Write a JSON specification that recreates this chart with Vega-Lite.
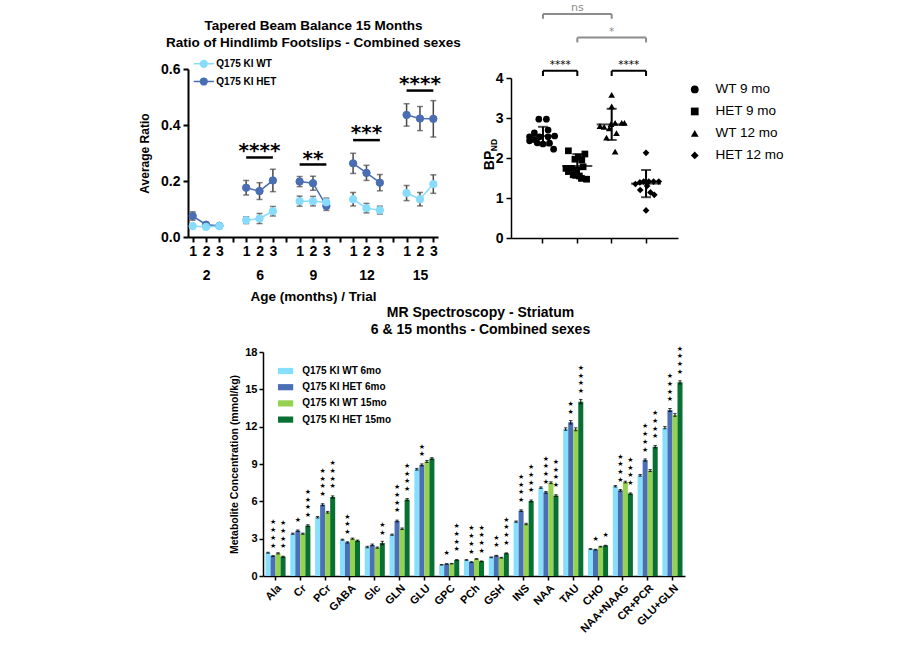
{
  "$schema": "https://vega.github.io/schema/vega-lite/v6.json",
  "width": 900,
  "height": 645,
  "autosize": {"type": "none"},
  "padding": 0,
  "config": {
    "view": {"stroke": null},
    "font": "Liberation Sans",
    "axis": {"grid": false, "labelFont": "Liberation Sans", "titleFont": "Liberation Sans", "labelFontWeight": "bold", "titleFontWeight": "bold", "domainColor": "black", "tickColor": "black", "labelColor": "black", "titleColor": "black"},
    "legend": {"labelFont": "Liberation Sans", "labelColor": "black"}
  },
  "datasets": {
    "beam": [
      {"key": "2-1", "age": "2", "geno": "Q175 KI HET", "m": 0.075, "e": 0.015},
      {"key": "2-2", "age": "2", "geno": "Q175 KI HET", "m": 0.044, "e": 0.006},
      {"key": "2-3", "age": "2", "geno": "Q175 KI HET", "m": 0.040, "e": 0.004},
      {"key": "6-1", "age": "6", "geno": "Q175 KI HET", "m": 0.176, "e": 0.026},
      {"key": "6-2", "age": "6", "geno": "Q175 KI HET", "m": 0.164, "e": 0.030},
      {"key": "6-3", "age": "6", "geno": "Q175 KI HET", "m": 0.202, "e": 0.040},
      {"key": "9-1", "age": "9", "geno": "Q175 KI HET", "m": 0.198, "e": 0.018},
      {"key": "9-2", "age": "9", "geno": "Q175 KI HET", "m": 0.192, "e": 0.025},
      {"key": "9-3", "age": "9", "geno": "Q175 KI HET", "m": 0.111, "e": 0.016},
      {"key": "12-1", "age": "12", "geno": "Q175 KI HET", "m": 0.263, "e": 0.036},
      {"key": "12-2", "age": "12", "geno": "Q175 KI HET", "m": 0.229, "e": 0.027},
      {"key": "12-3", "age": "12", "geno": "Q175 KI HET", "m": 0.194, "e": 0.029},
      {"key": "15-1", "age": "15", "geno": "Q175 KI HET", "m": 0.436, "e": 0.040},
      {"key": "15-2", "age": "15", "geno": "Q175 KI HET", "m": 0.423, "e": 0.043},
      {"key": "15-3", "age": "15", "geno": "Q175 KI HET", "m": 0.422, "e": 0.065},
      {"key": "2-1", "age": "2", "geno": "Q175 KI WT", "m": 0.039, "e": 0.004},
      {"key": "2-2", "age": "2", "geno": "Q175 KI WT", "m": 0.036, "e": 0.004},
      {"key": "2-3", "age": "2", "geno": "Q175 KI WT", "m": 0.039, "e": 0.004},
      {"key": "6-1", "age": "6", "geno": "Q175 KI WT", "m": 0.060, "e": 0.012},
      {"key": "6-2", "age": "6", "geno": "Q175 KI WT", "m": 0.066, "e": 0.018},
      {"key": "6-3", "age": "6", "geno": "Q175 KI WT", "m": 0.092, "e": 0.017},
      {"key": "9-1", "age": "9", "geno": "Q175 KI WT", "m": 0.128, "e": 0.018},
      {"key": "9-2", "age": "9", "geno": "Q175 KI WT", "m": 0.128, "e": 0.017},
      {"key": "9-3", "age": "9", "geno": "Q175 KI WT", "m": 0.124, "e": 0.015},
      {"key": "12-1", "age": "12", "geno": "Q175 KI WT", "m": 0.135, "e": 0.024},
      {"key": "12-2", "age": "12", "geno": "Q175 KI WT", "m": 0.103, "e": 0.017},
      {"key": "12-3", "age": "12", "geno": "Q175 KI WT", "m": 0.096, "e": 0.014},
      {"key": "15-1", "age": "15", "geno": "Q175 KI WT", "m": 0.157, "e": 0.027},
      {"key": "15-2", "age": "15", "geno": "Q175 KI WT", "m": 0.135, "e": 0.024},
      {"key": "15-3", "age": "15", "geno": "Q175 KI WT", "m": 0.189, "e": 0.033}
    ],
    "sig1": [
      {"from": "6-1", "to": "6-3", "mid": "6-2", "y": 0.284, "ty": 0.323, "s": "****"},
      {"from": "9-1", "to": "9-3", "mid": "9-2", "y": 0.259, "ty": 0.296, "s": "**"},
      {"from": "12-1", "to": "12-3", "mid": "12-2", "y": 0.346, "ty": 0.386, "s": "***"},
      {"from": "15-1", "to": "15-3", "mid": "15-2", "y": 0.523, "ty": 0.561, "s": "****"}
    ],
    "bp": [
      {"grp": "WT 9 mo", "jit": -0.39, "bp": 2.53},
      {"grp": "WT 9 mo", "jit": -0.26, "bp": 2.46},
      {"grp": "WT 9 mo", "jit": -0.12, "bp": 2.97},
      {"grp": "WT 9 mo", "jit": 0.10, "bp": 2.97},
      {"grp": "WT 9 mo", "jit": 0.15, "bp": 2.70},
      {"grp": "WT 9 mo", "jit": -0.10, "bp": 2.53},
      {"grp": "WT 9 mo", "jit": 0.15, "bp": 2.53},
      {"grp": "WT 9 mo", "jit": 0.34, "bp": 2.55},
      {"grp": "WT 9 mo", "jit": -0.39, "bp": 2.43},
      {"grp": "WT 9 mo", "jit": -0.17, "bp": 2.38},
      {"grp": "WT 9 mo", "jit": 0.0, "bp": 2.35},
      {"grp": "WT 9 mo", "jit": 0.19, "bp": 2.37},
      {"grp": "WT 9 mo", "jit": 0.31, "bp": 2.22},
      {"grp": "WT 9 mo", "jit": -0.25, "bp": 2.63},
      {"grp": "HET 9 mo", "jit": -0.26, "bp": 2.18},
      {"grp": "HET 9 mo", "jit": 0.22, "bp": 2.10},
      {"grp": "HET 9 mo", "jit": 0.03, "bp": 2.02},
      {"grp": "HET 9 mo", "jit": -0.07, "bp": 1.97},
      {"grp": "HET 9 mo", "jit": 0.13, "bp": 1.95},
      {"grp": "HET 9 mo", "jit": -0.33, "bp": 1.74},
      {"grp": "HET 9 mo", "jit": -0.17, "bp": 1.74},
      {"grp": "HET 9 mo", "jit": -0.02, "bp": 1.70},
      {"grp": "HET 9 mo", "jit": 0.17, "bp": 1.78},
      {"grp": "HET 9 mo", "jit": -0.26, "bp": 1.66},
      {"grp": "HET 9 mo", "jit": -0.12, "bp": 1.58},
      {"grp": "HET 9 mo", "jit": 0.06, "bp": 1.55},
      {"grp": "HET 9 mo", "jit": 0.27, "bp": 1.47},
      {"grp": "HET 9 mo", "jit": 0.12, "bp": 1.49},
      {"grp": "WT 12 mo", "jit": 0.0, "bp": 3.58},
      {"grp": "WT 12 mo", "jit": 0.0, "bp": 3.29},
      {"grp": "WT 12 mo", "jit": -0.34, "bp": 2.80},
      {"grp": "WT 12 mo", "jit": -0.22, "bp": 2.78},
      {"grp": "WT 12 mo", "jit": -0.02, "bp": 2.85},
      {"grp": "WT 12 mo", "jit": 0.10, "bp": 2.88},
      {"grp": "WT 12 mo", "jit": 0.29, "bp": 2.88},
      {"grp": "WT 12 mo", "jit": 0.37, "bp": 2.88},
      {"grp": "WT 12 mo", "jit": -0.07, "bp": 2.74},
      {"grp": "WT 12 mo", "jit": 0.14, "bp": 2.62},
      {"grp": "WT 12 mo", "jit": -0.15, "bp": 2.51},
      {"grp": "WT 12 mo", "jit": 0.10, "bp": 2.16},
      {"grp": "HET 12 mo", "jit": 0.0, "bp": 2.13},
      {"grp": "HET 12 mo", "jit": -0.31, "bp": 1.35},
      {"grp": "HET 12 mo", "jit": -0.18, "bp": 1.39},
      {"grp": "HET 12 mo", "jit": -0.07, "bp": 1.41},
      {"grp": "HET 12 mo", "jit": 0.08, "bp": 1.41},
      {"grp": "HET 12 mo", "jit": 0.22, "bp": 1.41},
      {"grp": "HET 12 mo", "jit": 0.37, "bp": 1.41},
      {"grp": "HET 12 mo", "jit": -0.17, "bp": 1.20},
      {"grp": "HET 12 mo", "jit": 0.13, "bp": 1.14},
      {"grp": "HET 12 mo", "jit": 0.24, "bp": 1.08},
      {"grp": "HET 12 mo", "jit": 0.0, "bp": 0.69},
      {"grp": "HET 12 mo", "jit": 0.03, "bp": 1.30}
    ],
    "bpsum": [
      {"grp": "WT 9 mo", "mean": 2.55, "sd": 0.23},
      {"grp": "HET 9 mo", "mean": 1.80, "sd": 0.30},
      {"grp": "WT 12 mo", "mean": 2.84, "sd": 0.39},
      {"grp": "HET 12 mo", "mean": 1.36, "sd": 0.34}
    ],
    "brh": [
      {"a": "WT 9 mo", "b": "WT 12 mo", "y": 5.6, "k": "ns"},
      {"a": "HET 9 mo", "b": "HET 12 mo", "y": 5.01, "k": "*"},
      {"a": "WT 9 mo", "b": "HET 9 mo", "y": 4.18, "k": "****"},
      {"a": "WT 12 mo", "b": "HET 12 mo", "y": 4.18, "k": "****"}
    ],
    "brv": [
      {"a": "WT 9 mo", "y": 5.6, "y2": 5.48, "k": "ns"},
      {"a": "WT 12 mo", "y": 5.6, "y2": 5.48, "k": "ns"},
      {"a": "HET 9 mo", "y": 5.01, "y2": 4.89, "k": "*"},
      {"a": "HET 12 mo", "y": 5.01, "y2": 4.89, "k": "*"},
      {"a": "WT 9 mo", "y": 4.18, "y2": 4.05, "k": "****"},
      {"a": "HET 9 mo", "y": 4.18, "y2": 4.05, "k": "****"},
      {"a": "WT 12 mo", "y": 4.18, "y2": 4.05, "k": "****"},
      {"a": "HET 12 mo", "y": 4.18, "y2": 4.05, "k": "****"}
    ],
    "brt": [
      {"a": "HET 9 mo", "dx": 0, "y": 5.67, "t": "ns", "k": "ns"},
      {"a": "WT 12 mo", "dx": 0, "y": 5.08, "t": "*", "k": "*"},
      {"a": "WT 9 mo", "dx": 0.5, "y": 4.24, "t": "****", "k": "****"},
      {"a": "WT 12 mo", "dx": 0.5, "y": 4.24, "t": "****", "k": "****"}
    ],
    "mrs": [
      {"met": "Ala", "grp": "Q175 KI WT 6mo", "v": 1.87, "e": 0.04, "n": 0},
      {"met": "Ala", "grp": "Q175 KI HET 6mo", "v": 1.60, "e": 0.04, "n": 4},
      {"met": "Ala", "grp": "Q175 KI WT 15mo", "v": 1.82, "e": 0.05, "n": 0},
      {"met": "Ala", "grp": "Q175 KI HET 15mo", "v": 1.55, "e": 0.04, "n": 4},
      {"met": "Cr", "grp": "Q175 KI WT 6mo", "v": 3.40, "e": 0.05, "n": 0},
      {"met": "Cr", "grp": "Q175 KI HET 6mo", "v": 3.64, "e": 0.06, "n": 1},
      {"met": "Cr", "grp": "Q175 KI WT 15mo", "v": 3.40, "e": 0.05, "n": 0},
      {"met": "Cr", "grp": "Q175 KI HET 15mo", "v": 4.05, "e": 0.07, "n": 4},
      {"met": "PCr", "grp": "Q175 KI WT 6mo", "v": 4.72, "e": 0.06, "n": 0},
      {"met": "PCr", "grp": "Q175 KI HET 6mo", "v": 5.73, "e": 0.08, "n": 4},
      {"met": "PCr", "grp": "Q175 KI WT 15mo", "v": 5.12, "e": 0.07, "n": 0},
      {"met": "PCr", "grp": "Q175 KI HET 15mo", "v": 6.35, "e": 0.09, "n": 4},
      {"met": "GABA", "grp": "Q175 KI WT 6mo", "v": 2.92, "e": 0.04, "n": 0},
      {"met": "GABA", "grp": "Q175 KI HET 6mo", "v": 2.70, "e": 0.05, "n": 3},
      {"met": "GABA", "grp": "Q175 KI WT 15mo", "v": 3.00, "e": 0.05, "n": 0},
      {"met": "GABA", "grp": "Q175 KI HET 15mo", "v": 2.84, "e": 0.05, "n": 0},
      {"met": "Glc", "grp": "Q175 KI WT 6mo", "v": 2.33, "e": 0.06, "n": 0},
      {"met": "Glc", "grp": "Q175 KI HET 6mo", "v": 2.50, "e": 0.07, "n": 0},
      {"met": "Glc", "grp": "Q175 KI WT 15mo", "v": 2.28, "e": 0.05, "n": 0},
      {"met": "Glc", "grp": "Q175 KI HET 15mo", "v": 2.65, "e": 0.14, "n": 2},
      {"met": "GLN", "grp": "Q175 KI WT 6mo", "v": 3.32, "e": 0.05, "n": 0},
      {"met": "GLN", "grp": "Q175 KI HET 6mo", "v": 4.42, "e": 0.07, "n": 4},
      {"met": "GLN", "grp": "Q175 KI WT 15mo", "v": 3.80, "e": 0.06, "n": 0},
      {"met": "GLN", "grp": "Q175 KI HET 15mo", "v": 6.14, "e": 0.09, "n": 4},
      {"met": "GLU", "grp": "Q175 KI WT 6mo", "v": 8.58, "e": 0.07, "n": 0},
      {"met": "GLU", "grp": "Q175 KI HET 6mo", "v": 8.93, "e": 0.08, "n": 2},
      {"met": "GLU", "grp": "Q175 KI WT 15mo", "v": 9.20, "e": 0.08, "n": 0},
      {"met": "GLU", "grp": "Q175 KI HET 15mo", "v": 9.44, "e": 0.07, "n": 0},
      {"met": "GPC", "grp": "Q175 KI WT 6mo", "v": 0.90, "e": 0.02, "n": 0},
      {"met": "GPC", "grp": "Q175 KI HET 6mo", "v": 0.97, "e": 0.02, "n": 1},
      {"met": "GPC", "grp": "Q175 KI WT 15mo", "v": 0.99, "e": 0.02, "n": 0},
      {"met": "GPC", "grp": "Q175 KI HET 15mo", "v": 1.29, "e": 0.03, "n": 4},
      {"met": "PCh", "grp": "Q175 KI WT 6mo", "v": 1.29, "e": 0.03, "n": 0},
      {"met": "PCh", "grp": "Q175 KI HET 6mo", "v": 1.12, "e": 0.03, "n": 4},
      {"met": "PCh", "grp": "Q175 KI WT 15mo", "v": 1.37, "e": 0.03, "n": 0},
      {"met": "PCh", "grp": "Q175 KI HET 15mo", "v": 1.18, "e": 0.03, "n": 4},
      {"met": "GSH", "grp": "Q175 KI WT 6mo", "v": 1.50, "e": 0.03, "n": 0},
      {"met": "GSH", "grp": "Q175 KI HET 6mo", "v": 1.63, "e": 0.03, "n": 2},
      {"met": "GSH", "grp": "Q175 KI WT 15mo", "v": 1.47, "e": 0.03, "n": 0},
      {"met": "GSH", "grp": "Q175 KI HET 15mo", "v": 1.82, "e": 0.04, "n": 4},
      {"met": "INS", "grp": "Q175 KI WT 6mo", "v": 4.37, "e": 0.05, "n": 0},
      {"met": "INS", "grp": "Q175 KI HET 6mo", "v": 5.25, "e": 0.07, "n": 4},
      {"met": "INS", "grp": "Q175 KI WT 15mo", "v": 4.18, "e": 0.06, "n": 0},
      {"met": "INS", "grp": "Q175 KI HET 15mo", "v": 6.03, "e": 0.08, "n": 4},
      {"met": "NAA", "grp": "Q175 KI WT 6mo", "v": 7.10, "e": 0.06, "n": 0},
      {"met": "NAA", "grp": "Q175 KI HET 6mo", "v": 6.72, "e": 0.07, "n": 4},
      {"met": "NAA", "grp": "Q175 KI WT 15mo", "v": 7.50, "e": 0.07, "n": 0},
      {"met": "NAA", "grp": "Q175 KI HET 15mo", "v": 6.46, "e": 0.07, "n": 4},
      {"met": "TAU", "grp": "Q175 KI WT 6mo", "v": 11.81, "e": 0.10, "n": 0},
      {"met": "TAU", "grp": "Q175 KI HET 6mo", "v": 12.35, "e": 0.14, "n": 2},
      {"met": "TAU", "grp": "Q175 KI WT 15mo", "v": 11.79, "e": 0.12, "n": 0},
      {"met": "TAU", "grp": "Q175 KI HET 15mo", "v": 14.01, "e": 0.18, "n": 4},
      {"met": "CHO", "grp": "Q175 KI WT 6mo", "v": 2.17, "e": 0.03, "n": 0},
      {"met": "CHO", "grp": "Q175 KI HET 6mo", "v": 2.12, "e": 0.03, "n": 1},
      {"met": "CHO", "grp": "Q175 KI WT 15mo", "v": 2.36, "e": 0.03, "n": 0},
      {"met": "CHO", "grp": "Q175 KI HET 15mo", "v": 2.44, "e": 0.03, "n": 1},
      {"met": "NAA+NAAG", "grp": "Q175 KI WT 6mo", "v": 7.21, "e": 0.06, "n": 0},
      {"met": "NAA+NAAG", "grp": "Q175 KI HET 6mo", "v": 6.88, "e": 0.07, "n": 4},
      {"met": "NAA+NAAG", "grp": "Q175 KI WT 15mo", "v": 7.55, "e": 0.07, "n": 0},
      {"met": "NAA+NAAG", "grp": "Q175 KI HET 15mo", "v": 6.62, "e": 0.06, "n": 4},
      {"met": "CR+PCR", "grp": "Q175 KI WT 6mo", "v": 8.09, "e": 0.07, "n": 0},
      {"met": "CR+PCR", "grp": "Q175 KI HET 6mo", "v": 9.32, "e": 0.09, "n": 4},
      {"met": "CR+PCR", "grp": "Q175 KI WT 15mo", "v": 8.47, "e": 0.08, "n": 0},
      {"met": "CR+PCR", "grp": "Q175 KI HET 15mo", "v": 10.39, "e": 0.10, "n": 4},
      {"met": "GLU+GLN", "grp": "Q175 KI WT 6mo", "v": 11.92, "e": 0.09, "n": 0},
      {"met": "GLU+GLN", "grp": "Q175 KI HET 6mo", "v": 13.34, "e": 0.12, "n": 4},
      {"met": "GLU+GLN", "grp": "Q175 KI WT 15mo", "v": 12.94, "e": 0.11, "n": 0},
      {"met": "GLU+GLN", "grp": "Q175 KI HET 15mo", "v": 15.56, "e": 0.13, "n": 4}
    ]
  },
  "layer": [
    {
      "resolve": {"axis": {"x": "independent", "y": "independent"}, "legend": {"color": "independent", "stroke": "independent"}},
      "layer": [
        {
          "data": {"name": "beam"},
          "mark": {"type": "line", "strokeWidth": 1.5},
          "encoding": {
            "x": {"field": "key", "type": "nominal", "sort": null,
              "scale": {"type": "point", "domain": ["2-1", "2-2", "2-3", "s1", "6-1", "6-2", "6-3", "s2", "9-1", "9-2", "9-3", "s3", "12-1", "12-2", "12-3", "s4", "15-1", "15-2", "15-3"], "range": [188, 438], "padding": 0.35},
              "axis": {"orient": "bottom", "offset": -408, "labelAngle": 0, "labelFontSize": 14, "labelPadding": 2, "labelLineHeight": 24, "tickSize": 5, "tickWidth": 2, "domainWidth": 2,
                "labelExpr": "indexof(datum.value, 's') == 0 ? '' : (split(datum.value, '-')[1] == '2' ? ['2', split(datum.value, '-')[0]] : split(datum.value, '-')[1])",
                "title": "Age (months) / Trial", "titleFontSize": 13.5, "titleY": 52, "titleBaseline": "top"}},
            "y": {"field": "m", "type": "quantitative",
              "scale": {"domain": [0, 0.6], "range": [237, 69], "nice": false},
              "axis": {"orient": "left", "offset": -188, "values": [0, 0.2, 0.4, 0.6], "format": ".1f", "labelFontSize": 14, "labelPadding": 3, "tickSize": 5, "tickWidth": 2, "domainWidth": 2, "title": "Average Ratio", "titleFontSize": 12, "titleX": -36.5, "titleY": 153}},
            "color": {"field": "geno", "type": "nominal", "scale": {"domain": ["Q175 KI WT", "Q175 KI HET"], "range": ["#86dcfa", "#4a6eb3"]}, "legend": null},
            "detail": {"field": "age"}
          }
        },
        {
          "data": {"name": "beam"},
          "mark": {"type": "errorbar", "ticks": {"size": 6}, "thickness": 1.5, "color": "#484848"},
          "encoding": {
            "x": {"field": "key", "type": "nominal", "axis": null},
            "y": {"field": "m", "type": "quantitative", "axis": null},
            "yError": {"field": "e"}
          }
        },
        {
          "data": {"name": "beam"},
          "mark": {"type": "point", "filled": true, "size": 55, "opacity": 1, "strokeWidth": 1},
          "encoding": {
            "x": {"field": "key", "type": "nominal", "axis": null},
            "y": {"field": "m", "type": "quantitative", "axis": null},
            "color": {"field": "geno", "type": "nominal",
              "legend": {"orient": "none", "legendX": 196.3, "legendY": 56.3, "title": null, "symbolType": "M-1.5,0H1.5M-0.5,0A0.5,0.5 0 1,0 0.5,0A0.5,0.5 0 1,0 -0.5,0", "symbolSize": 180, "symbolStrokeWidth": 1.5, "labelFontSize": 10, "labelFontWeight": "bold", "labelOffset": 5, "rowPadding": 3.7, "padding": 0}},
            "stroke": {"field": "geno", "type": "nominal", "scale": {"domain": ["Q175 KI WT", "Q175 KI HET"], "range": ["#86dcfa", "#4a6eb3"]},
              "legend": {"orient": "none", "legendX": 196.3, "legendY": 56.3, "title": null, "symbolType": "M-1.5,0H1.5M-0.5,0A0.5,0.5 0 1,0 0.5,0A0.5,0.5 0 1,0 -0.5,0", "symbolSize": 180, "symbolStrokeWidth": 1.5, "labelFontSize": 10, "labelFontWeight": "bold", "labelOffset": 5, "rowPadding": 3.7, "padding": 0}}
          }
        },
        {
          "data": {"name": "sig1"},
          "mark": {"type": "rule", "strokeWidth": 2.5, "color": "black"},
          "encoding": {
            "x": {"field": "from", "type": "nominal",
              "axis": {"orient": "top", "offset": 0, "domain": false, "ticks": false, "labels": false, "title": ["Tapered Beam Balance 15 Months", "Ratio of Hindlimb Footslips - Combined sexes"], "titleFontSize": 13.5, "titleLineHeight": 16.5, "titleBaseline": "bottom", "titleX": 313, "titleY": 32.5}},
            "x2": {"field": "to"},
            "y": {"field": "y", "type": "quantitative", "axis": null}
          }
        },
        {
          "data": {"name": "sig1"},
          "mark": {"type": "text", "font": "DejaVu Sans", "fontWeight": "bold", "fontSize": 20, "baseline": "middle", "dy": 4.4, "color": "black"},
          "encoding": {
            "x": {"field": "mid", "type": "nominal", "axis": null},
            "y": {"field": "ty", "type": "quantitative", "axis": null},
            "text": {"field": "s"}
          }
        }
      ]
    },
    {
      "resolve": {"axis": {"x": "independent", "y": "independent"}},
      "layer": [
        {
          "data": {"name": "bp"},
          "mark": {"type": "point", "filled": true, "size": 45, "color": "black", "opacity": 1},
          "encoding": {
            "x": {"field": "grp", "type": "nominal", "sort": null,
              "scale": {"type": "band", "domain": ["WT 9 mo", "HET 9 mo", "WT 12 mo", "HET 12 mo"], "range": [511, 678], "paddingInner": 0, "paddingOuter": 0.43},
              "axis": {"orient": "bottom", "offset": -407, "labels": false, "tickSize": 5, "tickWidth": 1.5, "domainWidth": 1.5, "title": null}},
            "xOffset": {"field": "jit", "type": "quantitative", "scale": {"domain": [-0.5, 0.5]}},
            "y": {"field": "bp", "type": "quantitative",
              "scale": {"domain": [0, 4], "range": [238, 78], "nice": false},
              "axis": {"orient": "left", "offset": -511, "values": [0, 1, 2, 3, 4], "labelFontSize": 14, "labelPadding": 3, "tickSize": 5, "tickWidth": 1.5, "domainWidth": 1.5, "title": "BP", "titleFontSize": 14, "titleX": -15, "titleY": 160}},
            "shape": {"field": "grp", "type": "nominal",
              "scale": {"domain": ["WT 9 mo", "HET 9 mo", "WT 12 mo", "HET 12 mo"], "range": ["circle", "square", "triangle-up", "diamond"]},
              "legend": {"orient": "none", "legendX": 688, "legendY": 82.7, "title": null, "symbolSize": 60, "symbolFillColor": "black", "symbolStrokeColor": "black", "labelFontSize": 13.5, "labelFontWeight": "normal", "labelOffset": 14, "rowPadding": 7, "padding": 0}}
          }
        },
        {
          "data": {"name": "bpsum"},
          "mark": {"type": "errorbar", "ticks": {"size": 10}, "thickness": 2, "color": "black"},
          "encoding": {
            "x": {"field": "grp", "type": "nominal", "axis": null},
            "y": {"field": "mean", "type": "quantitative", "axis": null},
            "yError": {"field": "sd"}
          }
        },
        {
          "data": {"name": "bpsum"},
          "mark": {"type": "tick", "size": 30, "thickness": 2, "color": "black"},
          "encoding": {
            "x": {"field": "grp", "type": "nominal", "axis": null},
            "y": {"field": "mean", "type": "quantitative", "axis": null}
          }
        },
        {
          "data": {"name": "brh"},
          "mark": {"type": "rule", "strokeWidth": 2},
          "encoding": {
            "x": {"field": "a", "type": "nominal", "axis": null},
            "x2": {"field": "b"},
            "y": {"field": "y", "type": "quantitative", "axis": null},
            "color": {"condition": {"test": "datum.k == '****'", "value": "black"}, "value": "#8c8c8c"}
          }
        },
        {
          "data": {"name": "brv"},
          "mark": {"type": "rule", "strokeWidth": 2},
          "encoding": {
            "x": {"field": "a", "type": "nominal", "axis": null},
            "y": {"field": "y", "type": "quantitative", "axis": null},
            "y2": {"field": "y2"},
            "color": {"condition": {"test": "datum.k == '****'", "value": "black"}, "value": "#8c8c8c"}
          }
        },
        {
          "data": {"name": "brt"},
          "mark": {"type": "text", "font": "DejaVu Sans", "baseline": "alphabetic"},
          "encoding": {
            "x": {"field": "a", "type": "nominal", "axis": null},
            "xOffset": {"field": "dx", "type": "quantitative"},
            "y": {"field": "y", "type": "quantitative",
              "axis": {"orient": "left", "offset": -511, "labels": false, "ticks": false, "domain": false, "title": "ND", "titleFontSize": 8.5, "titleX": -12.5, "titleY": 144.5}},
            "text": {"field": "t"},
            "size": {"condition": {"test": "datum.k == 'ns'", "value": 11}, "value": 10.5},
            "color": {"condition": {"test": "datum.k == '****'", "value": "black"}, "value": "#8c8c8c"}
          }
        }
      ]
    },
    {
      "resolve": {"axis": {"x": "independent", "y": "independent"}},
      "layer": [
        {
          "data": {"name": "mrs"},
          "mark": {"type": "bar"},
          "encoding": {
            "x": {"field": "met", "type": "nominal", "sort": null,
              "scale": {"domain": ["Ala", "Cr", "PCr", "GABA", "Glc", "GLN", "GLU", "GPC", "PCh", "GSH", "INS", "NAA", "TAU", "CHO", "NAA+NAAG", "CR+PCR", "GLU+GLN"], "range": [263, 685], "paddingInner": 0.19, "paddingOuter": 0.1},
              "axis": {"orient": "bottom", "offset": -69, "labelAngle": -45, "labelFontSize": 11, "labelPadding": 2, "tickSize": 4, "tickWidth": 1.5, "domainWidth": 1.5, "title": null}},
            "xOffset": {"field": "grp", "type": "nominal", "scale": {"domain": ["Q175 KI WT 6mo", "Q175 KI HET 6mo", "Q175 KI WT 15mo", "Q175 KI HET 15mo"], "paddingInner": 0}},
            "y": {"field": "v", "type": "quantitative",
              "scale": {"domain": [0, 18], "range": [576, 352], "nice": false},
              "axis": {"orient": "left", "offset": -263, "values": [0, 3, 6, 9, 12, 15, 18], "labelFontSize": 11, "labelPadding": 2, "tickSize": 4, "tickWidth": 1.5, "domainWidth": 1.5, "title": "Metabolite Concentration (mmol/kg)", "titleFontSize": 10.5, "titleX": -24, "titleY": 464}},
            "color": {"field": "grp", "type": "nominal",
              "scale": {"domain": ["Q175 KI WT 6mo", "Q175 KI HET 6mo", "Q175 KI WT 15mo", "Q175 KI HET 15mo"], "range": ["#86e0fc", "#4a6fb5", "#95d24f", "#087032"]},
              "legend": {"orient": "none", "legendX": 277.6, "legendY": 363, "title": null, "symbolType": "M-1.1,-0.45H1.1V0.45H-1.1Z", "symbolSize": 190, "labelFontSize": 10, "labelFontWeight": "bold", "labelOffset": 8.6, "rowPadding": 3.2, "padding": 0}}
          }
        },
        {
          "data": {"name": "mrs"},
          "mark": {"type": "errorbar", "ticks": {"size": 3.5}, "thickness": 1, "color": "black"},
          "encoding": {
            "x": {"field": "met", "type": "nominal", "axis": null},
            "xOffset": {"field": "grp", "type": "nominal"},
            "y": {"field": "v", "type": "quantitative", "axis": null},
            "yError": {"field": "e"}
          }
        },
        {
          "data": {"name": "mrs"},
          "transform": [{"filter": "datum.n >= 1"}],
          "mark": {"type": "text", "text": "★", "font": "DejaVu Sans", "fontSize": 7, "baseline": "alphabetic", "dy": -8.5, "color": "black"},
          "encoding": {
            "x": {"field": "met", "type": "nominal",
              "axis": {"orient": "top", "offset": 0, "domain": false, "ticks": false, "labels": false, "title": ["MR Spectroscopy - Striatum", "6 & 15 months - Combined sexes"], "titleFontSize": 14, "titleLineHeight": 17, "titleBaseline": "bottom", "titleX": 480, "titleY": 319.5}},
            "xOffset": {"field": "grp", "type": "nominal"},
            "y": {"field": "v", "type": "quantitative", "axis": null}
          }
        },
        {
          "data": {"name": "mrs"},
          "transform": [{"filter": "datum.n >= 2"}],
          "mark": {"type": "text", "text": "★", "font": "DejaVu Sans", "fontSize": 7, "baseline": "alphabetic", "dy": -16.2, "color": "black"},
          "encoding": {
            "x": {"field": "met", "type": "nominal", "axis": null},
            "xOffset": {"field": "grp", "type": "nominal"},
            "y": {"field": "v", "type": "quantitative", "axis": null}
          }
        },
        {
          "data": {"name": "mrs"},
          "transform": [{"filter": "datum.n >= 3"}],
          "mark": {"type": "text", "text": "★", "font": "DejaVu Sans", "fontSize": 7, "baseline": "alphabetic", "dy": -23.9, "color": "black"},
          "encoding": {
            "x": {"field": "met", "type": "nominal", "axis": null},
            "xOffset": {"field": "grp", "type": "nominal"},
            "y": {"field": "v", "type": "quantitative", "axis": null}
          }
        },
        {
          "data": {"name": "mrs"},
          "transform": [{"filter": "datum.n >= 4"}],
          "mark": {"type": "text", "text": "★", "font": "DejaVu Sans", "fontSize": 7, "baseline": "alphabetic", "dy": -31.6, "color": "black"},
          "encoding": {
            "x": {"field": "met", "type": "nominal", "axis": null},
            "xOffset": {"field": "grp", "type": "nominal"},
            "y": {"field": "v", "type": "quantitative", "axis": null}
          }
        }
      ]
    }
  ],
  "resolve": {
    "scale": {"x": "independent", "y": "independent", "color": "independent", "shape": "independent", "stroke": "independent", "xOffset": "independent"},
    "axis": {"x": "independent", "y": "independent"},
    "legend": {"color": "independent", "shape": "independent", "stroke": "independent"}
  }
}
